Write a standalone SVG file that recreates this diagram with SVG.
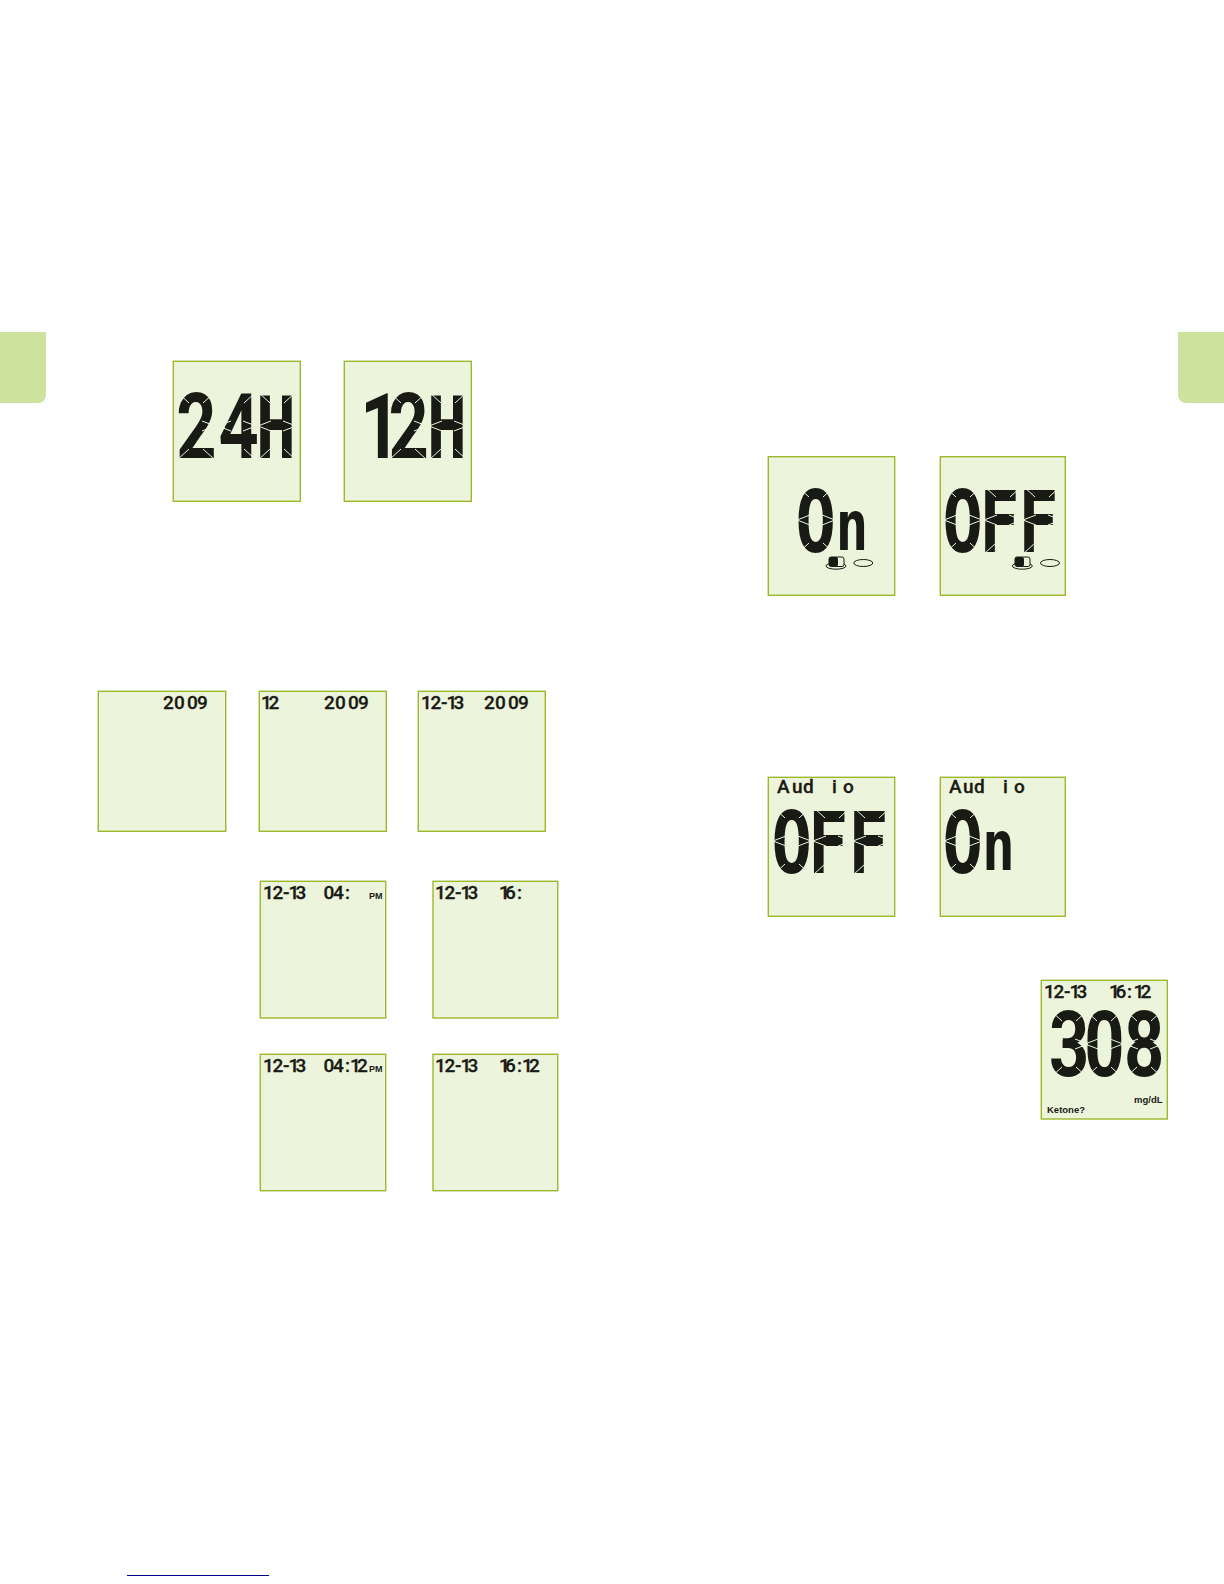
<svg xmlns="http://www.w3.org/2000/svg" width="1224" height="1584" viewBox="0 0 1224 1584">
<style>
.tab{fill:#cde29c}
.p{fill:#ecf4dc;stroke:#9db82a;stroke-width:1.4}
.big{font-family:"DejaVu Sans Mono",monospace;font-weight:700;font-size:86px;fill:#1a1a14}
.d{font-family:Roboto,sans-serif;font-size:90px}
.sm{font-family:Roboto,sans-serif;font-weight:500;font-size:19px;fill:#1a1a14;stroke:#1a1a14;stroke-width:.3}
.lb{font-family:"Liberation Sans",Arial,sans-serif;font-weight:700;fill:#1a1a14}
.n{font-size:70px}
.ic{fill:#ecf4dc;stroke:#1a1a14;stroke-width:1}
.gap{fill:none;stroke:#ecf4dc;stroke-width:1}
</style>
<defs>
<path id="seg" class="gap" d="M-2-2L10 9M36-2L24 9M-2 66L10 55M36 66L24 55M-2 32L11 27M-2 32L11 37M36 32L23 27M36 32L23 37"/>
</defs>
<rect width="1224" height="1584" fill="#fff"/>
<g id="tab-left"><path class="tab" d="M0 332H46V395a8 8 0 0 1-8 8H0Z"/></g>
<g id="tab-right"><path class="tab" d="M1224 332H1178V395a8 8 0 0 0 8 8H1224Z"/></g>

<g id="panel-24h"><rect class="p" x="173.3" y="361.3" width="127" height="140"/><text class="big" transform="translate(0 458) scale(.78 1)" x="226 280 328"><tspan class="d">24</tspan>H</text><use href="#seg" x="179" y="394"/><use href="#seg" x="220" y="394"/><use href="#seg" x="260" y="394"/></g>
<g id="panel-12h"><rect class="p" x="344.3" y="361.3" width="127" height="140"/><text class="big" transform="translate(0 458) scale(.78 1)" x="462 498 547"><tspan class="d">12</tspan>H</text><use href="#seg" x="391" y="394"/><use href="#seg" x="431" y="394"/></g>

<g id="panel-year"><rect class="p" x="98.3" y="691.3" width="127.4" height="140"/><text class="sm" y="709" x="163 174 185 187 197">20 09</text></g>
<g id="panel-month"><rect class="p" x="259.3" y="691.3" width="127" height="140"/><text class="sm" y="709" x="261 268.5">12</text><text class="sm" y="709" x="324 335 346 348 358">20 09</text></g>
<g id="panel-day"><rect class="p" x="418.3" y="691.3" width="127" height="140"/><text class="sm" y="709" x="421 430.5 441 444 446.5 453.5">12- 13</text><text class="sm" y="709" x="484 495 506 508 518">20 09</text></g>

<g id="panel-hour-12"><rect class="p" x="260.3" y="881.3" width="125.4" height="136.7"/><text class="sm" y="899" x="263 272.5 283 286 288.5 295.5">12- 13</text><text class="sm" y="899" x="323.5 333 345">04:</text><text class="lb" font-size="9" y="899" x="369">PM</text></g>
<g id="panel-hour-24"><rect class="p" x="433" y="881.3" width="124.7" height="136.7"/><text class="sm" y="899" x="435 444.5 455 458 460.5 467.5">12- 13</text><text class="sm" y="899" x="499 505 517">16:</text></g>
<g id="panel-min-12"><rect class="p" x="260.3" y="1054.3" width="125.4" height="136.4"/><text class="sm" y="1071.7" x="263 272.5 283 286 288.5 295.5">12- 13</text><text class="sm" y="1071.7" x="323.5 333 345 348 350 357">04: 12</text><text class="lb" font-size="9" y="1071.7" x="369">PM</text></g>
<g id="panel-min-24"><rect class="p" x="433" y="1054.3" width="124.7" height="136.4"/><text class="sm" y="1071.7" x="435 444.5 455 458 460.5 467.5">12- 13</text><text class="sm" y="1071.7" x="499 505 517 520 522 529">16: 12</text></g>

<g id="panel-on"><rect class="p" x="768.3" y="456.7" width="126.4" height="138.6"/><text class="big" transform="translate(0 552) scale(.78 1)" x="1020"><tspan>O</tspan><tspan class="n" x="1071" y="-2">n</tspan></text><use href="#seg" x="799" y="488"/>
<ellipse class="ic" cx="836" cy="566" rx="10" ry="3.2"/><rect x="829" y="557" width="15" height="9.5" rx="2" fill="#ecf4dc" stroke="#1a1a14"/><rect x="829" y="557" width="9" height="9.5" rx="2" fill="#1a1a14"/><ellipse class="ic" cx="863.3" cy="563" rx="9.5" ry="3.5"/></g>
<g id="panel-off"><rect class="p" x="940.3" y="456.7" width="125" height="138.6"/><text class="big" transform="translate(0 552) scale(.78 1)" x="1208.5 1255.5 1305.5">OFF</text><use href="#seg" x="946" y="488"/><use href="#seg" x="986" y="488"/><use href="#seg" x="1025" y="488"/>
<ellipse class="ic" cx="1022.3" cy="566" rx="10" ry="3.2"/><rect x="1015" y="557" width="15" height="9.5" rx="2" fill="#ecf4dc" stroke="#1a1a14"/><rect x="1015" y="557" width="9" height="9.5" rx="2" fill="#1a1a14"/><ellipse class="ic" cx="1050" cy="563" rx="9.5" ry="3.5"/></g>

<g id="panel-audio-off"><rect class="p" x="768.3" y="777.3" width="126.4" height="139"/><text class="sm" y="793" x="777 792 803 814 832 843">Aud io</text><text class="big" transform="translate(0 873) scale(.78 1)" x="989 1036 1087.5">OFF</text><use href="#seg" x="775" y="809"/><use href="#seg" x="815" y="809"/><use href="#seg" x="855" y="809"/></g>
<g id="panel-audio-on"><rect class="p" x="940.3" y="777.3" width="125" height="139"/><text class="sm" y="793" x="949 963 974 990 1003 1014">Aud io</text><text class="big" transform="translate(0 873) scale(.78 1)" x="1208.5"><tspan>O</tspan><tspan class="n" x="1259" y="-3">n</tspan></text><use href="#seg" x="946" y="809"/></g>

<g id="panel-result"><rect class="p" x="1041.3" y="980.3" width="126" height="138.7"/><text class="sm" y="997.7" x="1044 1053.5 1064 1067 1069.5 1076.5">12- 13</text><text class="sm" y="997.7" x="1109 1115.5 1127 1130 1133.5 1140.5">16: 12</text><text class="big" transform="translate(0 1076) scale(.78 1)" x="1345 1390 1441"><tspan class="d">308</tspan></text><use href="#seg" x="1052" y="1012"/><use href="#seg" x="1087" y="1012"/><use href="#seg" x="1127" y="1012"/><text class="lb" font-size="9.5" y="1103" x="1134">mg/dL</text><text class="lb" font-size="9.5" y="1113" x="1047">Ketone?</text></g>

<g id="underline"><rect x="127" y="1575" width="142" height="1" fill="#00008b"/></g>
</svg>
